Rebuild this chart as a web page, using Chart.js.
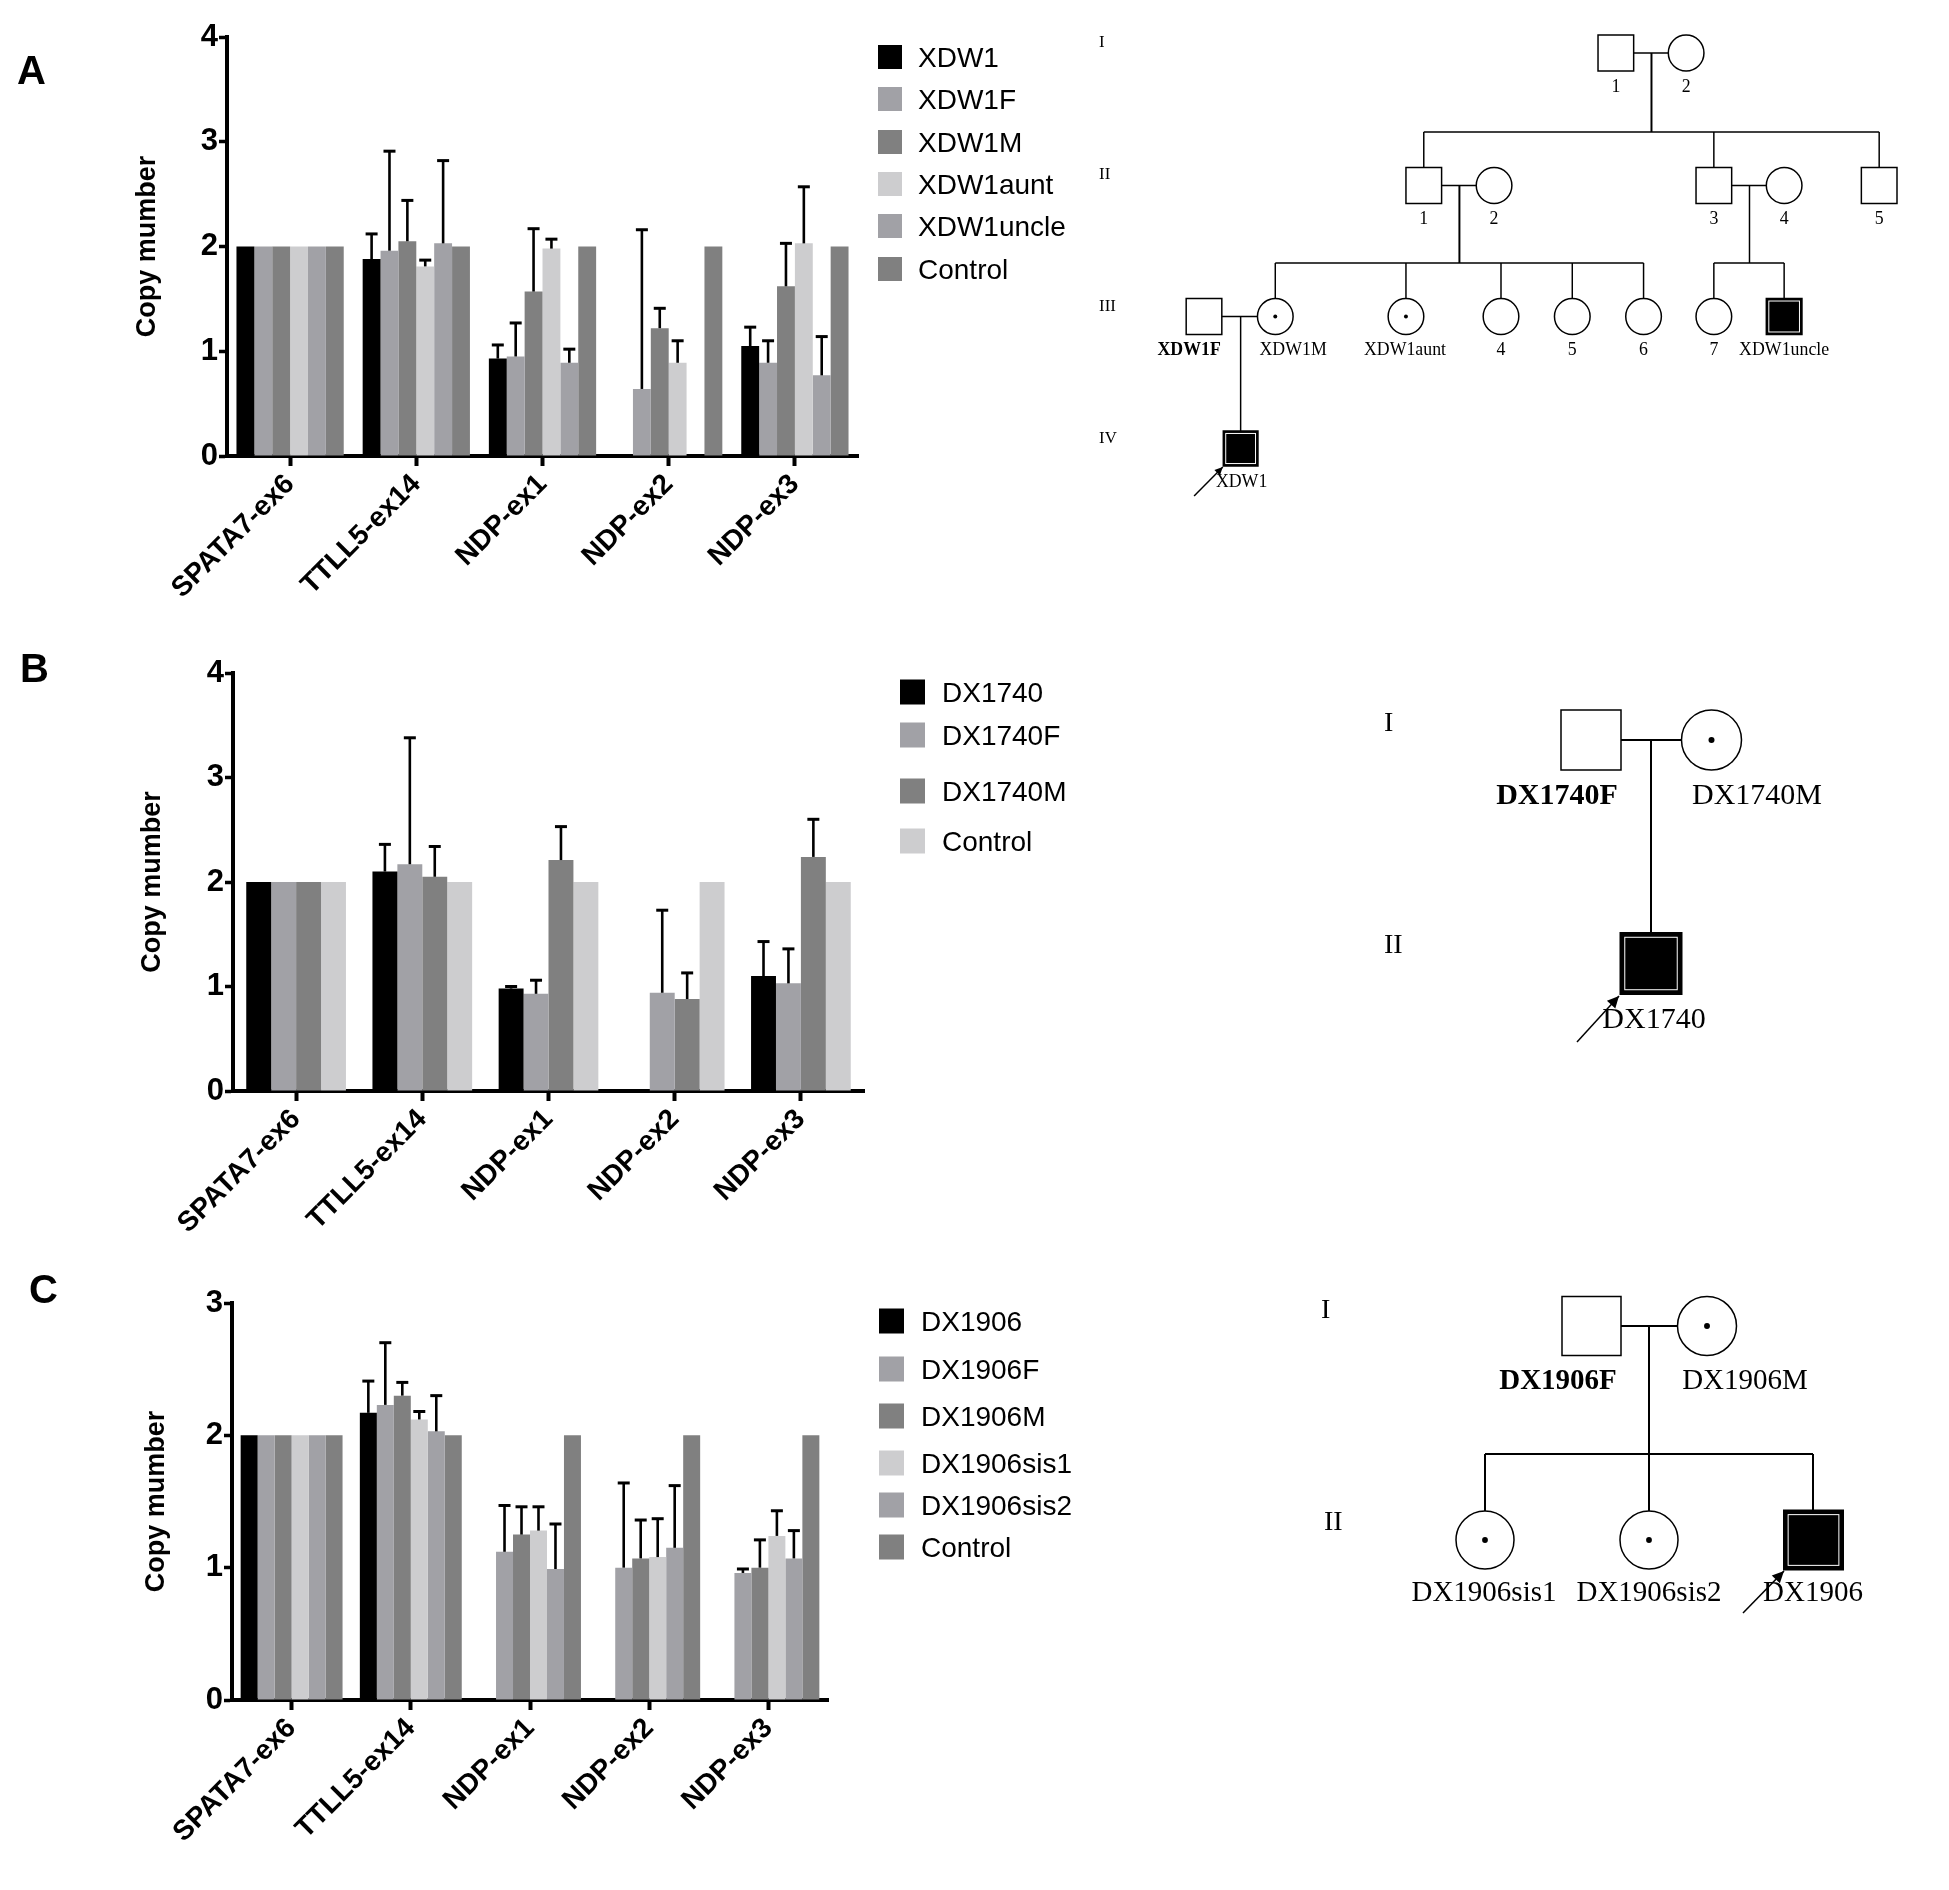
<!DOCTYPE html>
<html>
<head>
<meta charset="utf-8">
<script src="https://cdn.jsdelivr.net/npm/chart.js@4.4.1/dist/chart.umd.min.js"></script>
<style>
  html, body { margin: 0; padding: 0; background: #fff; }
  #page { position: relative; width: 1949px; height: 1890px; overflow: hidden; }
  canvas { position: absolute; }
  #art { position: absolute; left: 0; top: 0; }
</style>
</head>
<body>
<div id="page">
  <canvas id="chartA" width="800" height="640" style="left:100px;top:0px"></canvas>
  <canvas id="chartB" width="800" height="640" style="left:100px;top:640px"></canvas>
  <canvas id="chartC" width="780" height="620" style="left:100px;top:1270px"></canvas>
  <svg id="art" width="1949" height="1890"></svg>
</div>
<script>
// categories (same for all three panels)
const exons = ['SPATA7-ex6', 'TTLL5-ex14', 'NDP-ex1', 'NDP-ex2', 'NDP-ex3'];

// panel A - family XDW1
const namesA = ['XDW1', 'XDW1F', 'XDW1M', 'XDW1aunt', 'XDW1uncle', 'Control'];
const xdw1      = [2, 1.88, 0.93, null, 1.05];
const xdw1Err   = [0, 0.24, 0.13, 0, 0.18];
const xdw1F     = [2, 1.96, 0.95, 0.64, 0.89];
const xdw1FErr  = [0, 0.95, 0.32, 1.52, 0.21];
const xdw1M     = [2, 2.05, 1.57, 1.22, 1.62];
const xdw1MErr  = [0, 0.39, 0.60, 0.19, 0.41];
const xdw1Aunt  = [2, 1.81, 1.98, 0.89, 2.03];
const xdw1AuntErr = [0, 0.06, 0.09, 0.21, 0.54];
const xdw1Uncle = [2, 2.03, 0.89, null, 0.77];
const xdw1UncleErr = [0, 0.79, 0.13, 0, 0.37];
const controlA  = [2, 2, 2, 2, 2];

// panel B - family DX1740
const namesB = ['DX1740', 'DX1740F', 'DX1740M', 'Control'];
const dx1740     = [2, 2.10, 0.98, null, 1.10];
const dx1740Err  = [0, 0.26, 0.02, 0, 0.33];
const dx1740F    = [2, 2.17, 0.93, 0.94, 1.03];
const dx1740FErr = [0, 1.21, 0.13, 0.79, 0.33];
const dx1740M    = [2, 2.05, 2.21, 0.88, 2.24];
const dx1740MErr = [0, 0.29, 0.32, 0.25, 0.36];
const controlB   = [2, 2, 2, 2, 2];

// panel C - family DX1906
const namesC = ['DX1906', 'DX1906F', 'DX1906M', 'DX1906sis1', 'DX1906sis2', 'Control'];
const dx1906     = [2, 2.17, null, null, null];
const dx1906Err  = [0, 0.24, 0, 0, 0];
const dx1906F    = [2, 2.23, 1.12, 1.00, 0.96];
const dx1906FErr = [0, 0.47, 0.35, 0.64, 0.03];
const dx1906M    = [2, 2.30, 1.25, 1.07, 1.00];
const dx1906MErr = [0, 0.10, 0.21, 0.29, 0.21];
const dx1906Sis1    = [2, 2.12, 1.28, 1.08, 1.24];
const dx1906Sis1Err = [0, 0.06, 0.18, 0.29, 0.19];
const dx1906Sis2    = [2, 2.03, 0.99, 1.15, 1.07];
const dx1906Sis2Err = [0, 0.27, 0.34, 0.47, 0.21];
const controlC   = [2, 2, 2, 2, 2];

// y ticks
const ticksAB = [0, 1, 2, 3, 4];
const ticksC = [0, 1, 2, 3];

// grey shades
const BLACK = '#000000', MID = '#a1a1a6', DARK = '#808080', LIGHT = '#cdcdcf';
const colorsA = [BLACK, MID, DARK, LIGHT, MID, DARK];
const colorsB = [BLACK, MID, DARK, LIGHT];
const colorsC = [BLACK, MID, DARK, LIGHT, MID, DARK];

Chart.defaults.font.family = "'Liberation Sans', Arial, sans-serif";
Chart.defaults.color = '#000';

// draws upward SD whiskers on top of each bar
const errorBars = {
    id: 'errorBars',
    afterDatasetsDraw(chart) {
        const ctx = chart.ctx;
        const y = chart.scales.y;
        ctx.save();
        ctx.strokeStyle = '#000';
        chart.data.datasets.forEach((ds, i) => {
            const meta = chart.getDatasetMeta(i);
            meta.data.forEach((bar, j) => {
                const v = ds.data[j];
                const e = ds.errors ? ds.errors[j] : 0;
                if (v == null || !e) return;
                const top = y.getPixelForValue(v + e);
                ctx.lineWidth = 2.6;
                ctx.beginPath();
                ctx.moveTo(bar.x, bar.y);
                ctx.lineTo(bar.x, top);
                ctx.stroke();
                ctx.lineWidth = 3;
                ctx.beginPath();
                ctx.moveTo(bar.x - 6, top);
                ctx.lineTo(bar.x + 6, top);
                ctx.stroke();
            });
        });
        ctx.restore();
    }
};

function makeChart(id, names, values, errors, colors, yTicks, catPct, box) {
    const ctx = document.getElementById(id).getContext('2d');
    const datasets = names.map((n, i) => ({
        label: n,
        data: values[i],
        errors: errors[i],
        backgroundColor: colors[i],
        borderWidth: 0,
        barPercentage: 1.0,
        categoryPercentage: catPct
    }));
    return new Chart(ctx, {
        type: 'bar',
        data: { labels: exons, datasets: datasets },
        plugins: [errorBars],
        options: {
            responsive: false,
            animation: false,
            events: [],
            layout: { padding: { left: 0, top: box.top, right: box.right, bottom: box.bottom } },
            plugins: { legend: { display: false }, tooltip: { enabled: false } },
            scales: {
                x: {
                    z: 1,
                    offset: true,
                    grid: { display: true, drawOnChartArea: false, offset: false,
                            tickLength: 10, tickWidth: 4, tickColor: '#000', color: '#000' },
                    border: { display: true, color: '#000', width: 4 },
                    ticks: { autoSkip: false, maxRotation: 45, minRotation: 45, padding: 2,
                             font: { size: 28, weight: 'bold' }, color: '#000' },
                    afterFit(s) { s.height = 150; }
                },
                y: {
                    z: 1,
                    min: yTicks[0],
                    max: yTicks[yTicks.length - 1],
                    afterBuildTicks(s) { s.ticks = yTicks.map(v => ({ value: v })); },
                    grid: { display: true, drawOnChartArea: false,
                            tickLength: 8, tickWidth: 3.5, tickColor: '#000', color: '#000' },
                    border: { display: true, color: '#000', width: 4 },
                    ticks: { padding: 1, font: { size: 31, weight: 'bold' }, color: '#000' },
                    title: { display: true, text: 'Copy mumber', color: '#000',
                             font: { size: 27, weight: 'bold' }, padding: { top: box.titlePad, bottom: 0 } },
                    afterFit(s) { s.width = box.yWidth; }
                }
            }
        }
    });
}

makeChart('chartA', namesA,
    [xdw1, xdw1F, xdw1M, xdw1Aunt, xdw1Uncle, controlA],
    [xdw1Err, xdw1FErr, xdw1MErr, xdw1AuntErr, xdw1UncleErr, null],
    colorsA, ticksAB, 0.85, { top: 37, right: 42, bottom: 34, yWidth: 127, titlePad: 31 });

makeChart('chartB', namesB,
    [dx1740, dx1740F, dx1740M, controlB],
    [dx1740Err, dx1740FErr, dx1740MErr, null],
    colorsB, ticksAB, 0.79, { top: 33, right: 36, bottom: 39, yWidth: 133, titlePad: 36 });

makeChart('chartC', namesC,
    [dx1906, dx1906F, dx1906M, dx1906Sis1, dx1906Sis2, controlC],
    [dx1906Err, dx1906FErr, dx1906MErr, dx1906Sis1Err, dx1906Sis2Err, null],
    colorsC, ticksC, 0.855, { top: 33, right: 52, bottom: 40, yWidth: 132, titlePad: 40 });

// ---------- svg: panel letters, legends, pedigrees ----------
const NS = 'http://www.w3.org/2000/svg';
const svg = document.getElementById('art');
const SERIF = "'Liberation Serif', 'Times New Roman', serif";
const SANS = "'Liberation Sans', Arial, sans-serif";
let layer = svg;

function group(transform) {
    const g = document.createElementNS(NS, 'g');
    if (transform) g.setAttribute('transform', transform);
    svg.appendChild(g);
    layer = g;
}
function el(tag, attrs, text) {
    const e = document.createElementNS(NS, tag);
    for (const k in attrs) e.setAttribute(k, attrs[k]);
    if (text != null) e.textContent = text;
    layer.appendChild(e);
    return e;
}
function line(x1, y1, x2, y2, w) {
    el('line', { x1, y1, x2, y2, stroke: '#000', 'stroke-width': w || 1.5 });
}
function txt(x, y, t, size, opt) {
    opt = opt || {};
    el('text', { x, y, 'font-family': opt.family || SERIF, 'font-size': size,
                 'font-weight': opt.bold ? 'bold' : 'normal',
                 'text-anchor': opt.anchor || 'middle', fill: '#000' }, t);
}
function male(cx, cy, s, filled, w) {
    el('rect', { x: cx - s / 2, y: cy - s / 2, width: s, height: s,
                 fill: filled ? '#000' : '#fff', stroke: '#000', 'stroke-width': w || 1.5 });
    if (filled) {
        const g = s * 0.07;
        el('rect', { x: cx - s / 2 + g, y: cy - s / 2 + g, width: s - 2 * g, height: s - 2 * g,
                     fill: 'none', stroke: '#fff', 'stroke-width': 1 });
    }
}
function female(cx, cy, r, carrier, w) {
    el('ellipse', { cx, cy, rx: r, ry: r, fill: '#fff', stroke: '#000', 'stroke-width': w || 1.5 });
    if (carrier) el('circle', { cx, cy, r: Math.max(2, r * 0.1), fill: '#000' });
}
function arrow(x1, y1, x2, y2, head) {
    line(x1, y1, x2, y2, 1.5);
    const a = Math.atan2(y2 - y1, x2 - x1);
    const h = head, sp = 0.45;
    el('polygon', { points: [
        [x2, y2],
        [x2 - h * Math.cos(a - sp), y2 - h * Math.sin(a - sp)],
        [x2 - h * Math.cos(a + sp), y2 - h * Math.sin(a + sp)]
    ].map(p => p.join(',')).join(' '), fill: '#000' });
}

// panel letters
txt(17, 84, 'A', 40, { family: SANS, bold: true, anchor: 'start' });
txt(20, 682, 'B', 40, { family: SANS, bold: true, anchor: 'start' });
txt(29, 1303, 'C', 40, { family: SANS, bold: true, anchor: 'start' });

// legends
function legend(names, colors, x, rows, sq, textX) {
    names.forEach((n, i) => {
        el('rect', { x: x, y: rows[i] - sq / 2, width: sq, height: sq, fill: colors[i] });
        txt(textX, rows[i] + 10, n, 28, { family: SANS, anchor: 'start' });
    });
}
legend(namesA, colorsA, 878, [57, 99, 142, 184, 226, 269], 24, 918);
legend(namesB, colorsB, 900, [692, 735, 791, 841], 25, 942);
legend(namesC, colorsC, 879, [1321, 1369, 1416, 1463, 1505, 1547], 25, 921);

// pedigree A (family XDW1)
group('translate(1204,0) scale(0.99,1) translate(-1204,0)');
(function () {
    const s = 36, r = 18, f = 18;
    ['I', 'II', 'III', 'IV'].forEach((g, i) => txt(1098, [47, 179, 311, 443][i], g, 17, { anchor: 'start' }));
    // generation I
    male(1620, 53, s); female(1691, 53, r);
    line(1638, 53, 1673, 53); line(1656, 53, 1656, 132, 2);
    txt(1620, 92, '1', f); txt(1691, 92, '2', f);
    line(1426, 132, 1886, 132);
    [1426, 1719, 1886].forEach(x => line(x, 132, x, 168));
    // generation II
    male(1426, 185.5, s); female(1497, 185.5, r);
    male(1719, 185.5, s); female(1790, 185.5, r); male(1886, 185.5, s);
    line(1444, 185.5, 1479, 185.5); line(1737, 185.5, 1772, 185.5);
    line(1462, 185.5, 1462, 263, 2); line(1755, 185.5, 1755, 263, 1.5);
    [['1', 1426], ['2', 1497], ['3', 1719], ['4', 1790], ['5', 1886]].forEach(p => txt(p[1], 224, p[0], f));
    line(1276, 263, 1648, 263); line(1719, 263, 1790, 263);
    [1276, 1408, 1504, 1576, 1648, 1719, 1790].forEach(x => line(x, 263, x, 299));
    // generation III
    male(1204, 316.5, s); female(1276, 316.5, r, true); female(1408, 316.5, r, true);
    female(1504, 316.5, r); female(1576, 316.5, r); female(1648, 316.5, r); female(1719, 316.5, r);
    male(1790, 316.5, s, true);
    line(1222, 316.5, 1258, 316.5); line(1241, 316.5, 1241, 431);
    txt(1189, 355, 'XDW1F', f, { bold: true });
    txt(1294, 355, 'XDW1M', f); txt(1407, 355, 'XDW1aunt', f);
    txt(1504, 355, '4', f); txt(1576, 355, '5', f); txt(1648, 355, '6', f); txt(1719, 355, '7', f);
    txt(1790, 355, 'XDW1uncle', f);
    // generation IV
    male(1241, 448.5, 35, true);
    txt(1242, 487, 'XDW1', f);
    arrow(1194, 496, 1223, 467, 9);
})();

// pedigree B (family DX1740)
group(null);
(function () {
    txt(1384, 731, 'I', 28, { anchor: 'start' });
    txt(1384, 953, 'II', 28, { anchor: 'start' });
    male(1591, 740, 60); female(1711.5, 740, 30, true);
    line(1621, 740, 1681.5, 740, 2); line(1651, 740, 1651, 933, 2);
    txt(1557, 804, 'DX1740F', 30, { bold: true });
    txt(1757, 804, 'DX1740M', 30);
    male(1651, 963.5, 61, true, 2);
    txt(1654, 1028, 'DX1740', 30);
    arrow(1577, 1042, 1619, 996, 13);
})();

// pedigree C (family DX1906)
group('translate(-5,0)');
(function () {
    txt(1326, 1318, 'I', 28, { anchor: 'start' });
    txt(1329, 1530, 'II', 28, { anchor: 'start' });
    male(1596.5, 1326, 59); female(1712, 1326, 29.5, true);
    line(1626, 1326, 1682.5, 1326, 2); line(1654, 1326, 1654, 1454, 2);
    txt(1563, 1389, 'DX1906F', 29, { bold: true });
    txt(1750, 1389, 'DX1906M', 29);
    line(1490, 1454, 1818, 1454, 2);
    [1490, 1654, 1818].forEach(x => line(x, 1454, x, 1511, 2));
    female(1490, 1540, 29, true); female(1654, 1540, 29, true);
    male(1818.5, 1540, 59, true, 2);
    txt(1489, 1601, 'DX1906sis1', 29); txt(1654, 1601, 'DX1906sis2', 29); txt(1818, 1601, 'DX1906', 29);
    arrow(1748, 1613, 1789, 1571, 13);
})();
</script>
</body>
</html>
